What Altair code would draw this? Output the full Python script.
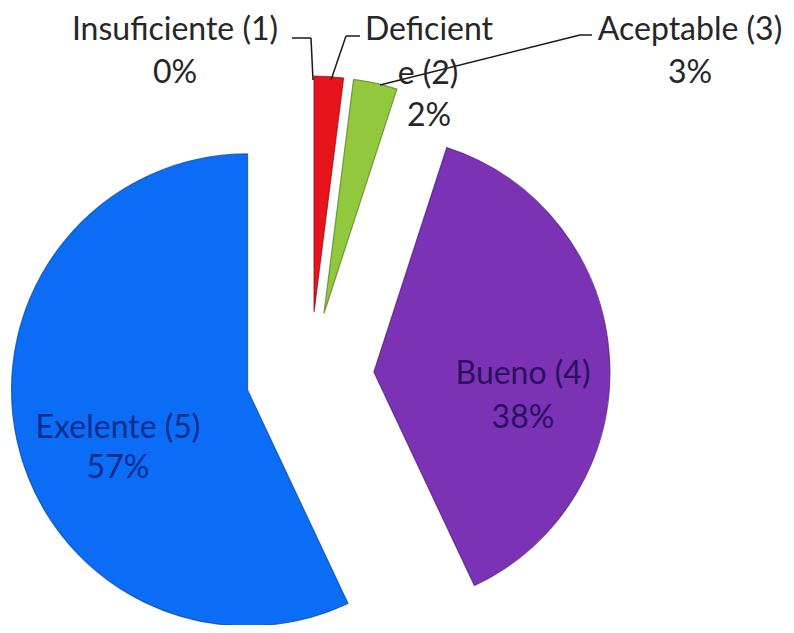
import altair as alt
import pandas as pd

# ---- data ----
categories = ["Insuficiente (1)", "Deficiente (2)", "Aceptable (3)", "Bueno (4)", "Exelente (5)"]
percent = [0, 2, 3, 38, 57]
fill_colors = ["#e01b1b", "#e8141c", "#92c83e", "#7b32b4", "#0b6cf5"]
edge_colors = ["#8a0a0a", "#8f0a10", "#4f7a1c", "#4a1a75", "#06449e"]

# label texts (as they appear, with Excel's odd wrap)
label_text = ["Insuficiente (1)", "0%", "Deficient", "e (2)", "2%",
              "Aceptable (3)", "3%", "Bueno (4)", "38%", "Exelente (5)", "57%"]
label_color = ["#262626"] * 7 + ["#2b1060", "#2b1060", "#0a2c8c", "#0a2c8c"]

# ---- layout (not data) ----
W, H = 778, 617
CX, CY, R, EXPLODE = 302, 368, 236, 64
label_x = [167, 167, 421, 420, 421, 682, 682, 515, 515, 110, 110]
label_y = [22, 65, 22, 66, 108, 22, 65, 366, 410, 420, 460]

leader_x = [284, 303, 352, 338, 372, 572]
leader_y = [30, 30, 28, 28, 77, 27]
leader_x2 = [303, 305, 338, 323, 572, 584]
leader_y2 = [30, 72, 28, 72, 27, 27]

df = pd.DataFrame({"cat": categories, "pct": percent, "order": list(range(len(categories)))})

arcs = (
    alt.Chart(df)
    .transform_window(cum="sum(pct)", sort=[alt.SortField("order")], frame=[None, 0])
    .transform_calculate(
        start="datum.cum - datum.pct",
        mid="(datum.cum - datum.pct / 2) / 100 * 2 * PI",
        px=f"{CX} + {EXPLODE} * sin(datum.mid)",
        py=f"{CY} - {EXPLODE} * cos(datum.mid)",
    )
    .transform_filter("datum.pct > 0")
    .mark_arc(radius=R, strokeWidth=1.2, strokeOpacity=0.7)
    .encode(
        theta=alt.Theta("start:Q", scale=alt.Scale(domain=[0, 100], range=[0, 6.283185307])),
        theta2="cum:Q",
        x=alt.X("px:Q", scale=None),
        y=alt.Y("py:Q", scale=None),
        color=alt.Color("cat:N", scale=alt.Scale(domain=categories, range=fill_colors), legend=None),
        stroke=alt.Stroke("cat:N", scale=alt.Scale(domain=categories, range=edge_colors), legend=None),
    )
)

lab_df = pd.DataFrame({"t": label_text, "x": label_x, "y": label_y, "c": label_color})
labels = (
    alt.Chart(lab_df)
    .mark_text(font="Lato", fontSize=32, baseline="middle", align="center")
    .encode(
        x=alt.X("x:Q", scale=None),
        y=alt.Y("y:Q", scale=None),
        text="t:N",
        color=alt.Color("c:N", scale=None),
    )
)

lead_df = pd.DataFrame({"x": leader_x, "y": leader_y, "x2": leader_x2, "y2": leader_y2})
leaders = (
    alt.Chart(lead_df)
    .mark_rule(color="#1a1a1a", strokeWidth=1.5)
    .encode(
        x=alt.X("x:Q", scale=None),
        y=alt.Y("y:Q", scale=None),
        x2="x2:Q",
        y2="y2:Q",
    )
)

chart = (
    alt.layer(arcs, leaders, labels)
    .properties(width=W, height=H, padding=0, autosize=alt.AutoSizeParams(type="none"))
    .configure_view(stroke=None)
)

chart.save("out.html", embed_options={"renderer": "svg", "actions": False})
